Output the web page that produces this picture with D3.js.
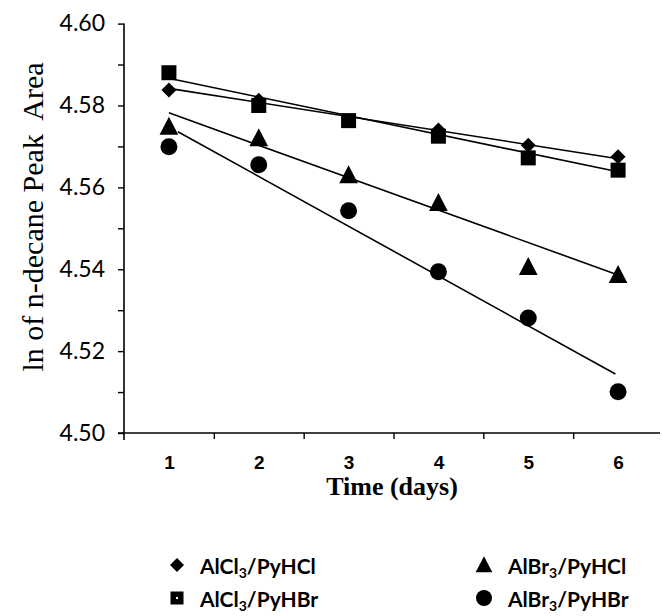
<!DOCTYPE html>
<html>
<head>
<meta charset="utf-8">
<script src="https://cdn.jsdelivr.net/npm/d3@7/dist/d3.min.js"></script>
<style>
html,body{margin:0;padding:0;background:#fff;}
svg{display:block;}
</style>
</head>
<body>
<svg id="chart" width="662" height="616"></svg>
<script>
// ---- data ----
const days = [1, 2, 3, 4, 5, 6];
const alcl3PyHCl = [4.5838, 4.5813, 4.5763, 4.5740, 4.5703, 4.5675];
const alcl3PyHBr = [4.5880, 4.5800, 4.5763, 4.5725, 4.5672, 4.5642];
const albr3PyHCl = [4.5748, 4.5720, 4.5630, 4.5562, 4.5406, 4.5386];
const albr3PyHBr = [4.5699, 4.5655, 4.5543, 4.5394, 4.5281, 4.5101];
// fitted trend lines: [startDay, startValue, endDay, endValue]
const fitAlCl3PyHCl = [1.05, 4.5840, 6.0, 4.5670];
const fitAlCl3PyHBr = [1.05, 4.5864, 6.0, 4.5638];
const fitAlBr3PyHCl = [1.0, 4.5782, 6.0, 4.5386];
const fitAlBr3PyHBr = [1.1, 4.5736, 5.97, 4.5144];
const yTicks = [4.50, 4.51, 4.52, 4.53, 4.54, 4.55, 4.56, 4.57, 4.58, 4.59, 4.60];
const yTickLabels = ["4.50", "", "4.52", "", "4.54", "", "4.56", "", "4.58", "", "4.60"];
const xTickLabels = ["1", "2", "3", "4", "5", "6"];
const xTickMarks = [1.5, 2.5, 3.5, 4.5, 5.5];

const seriesNames = ["AlCl3/PyHCl", "AlCl3/PyHBr", "AlBr3/PyHCl", "AlBr3/PyHBr"];

// ---- drawing ----
const svg = d3.select("#chart");
const x = d3.scaleLinear().domain([0.5, 6.5]).range([124, 663]);
const y = d3.scaleLinear().domain([4.50, 4.60]).range([433, 23.6]);

const series = [
  {name: seriesNames[0], values: alcl3PyHCl, fit: fitAlCl3PyHCl, shape: "diamond"},
  {name: seriesNames[1], values: alcl3PyHBr, fit: fitAlCl3PyHBr, shape: "square"},
  {name: seriesNames[2], values: albr3PyHCl, fit: fitAlBr3PyHCl, shape: "triangle"},
  {name: seriesNames[3], values: albr3PyHBr, fit: fitAlBr3PyHBr, shape: "circle"}
];

function marker(g, shape, s, dot) {
  if (shape === "diamond") {
    g.append("path").attr("d", `M0,${-s*0.5}L${s*0.5},0L0,${s*0.5}L${-s*0.5},0Z`).attr("fill", "#000");
  } else if (shape === "square") {
    g.append("rect").attr("x", -s/2).attr("y", -s/2).attr("width", s).attr("height", s).attr("fill", "#000");
    if (dot) g.append("rect").attr("x", -1).attr("y", -1).attr("width", 2).attr("height", 2).attr("fill", "#fff");
  } else if (shape === "triangle") {
    g.append("path").attr("d", `M0,${-s*0.55}L${s*0.52},${s*0.45}L${-s*0.52},${s*0.45}Z`).attr("fill", "#000");
  } else {
    g.append("circle").attr("r", s/2).attr("fill", "#000");
  }
}

// Y axis
const yAxis = d3.axisLeft(y).tickValues(yTicks).tickSize(6).tickPadding(13)
  .tickFormat((d, i) => yTickLabels[i]);
const gy = svg.append("g").attr("transform", "translate(124,0)").call(yAxis);
gy.select(".domain").attr("d", `M0,${y(4.60)}V${y(4.50) + 7}`).attr("stroke", "#000").attr("stroke-width", 1.6);
gy.selectAll(".tick line").attr("stroke", "#000").attr("stroke-width", 1.4);
gy.selectAll(".tick text").attr("font-family", "Lato, 'Open Sans', sans-serif").attr("font-size", 23).attr("fill", "#000");

// X axis: tick marks between categories
const xAxisMarks = d3.axisBottom(x).tickValues(xTickMarks).tickSize(6).tickFormat("");
const gx = svg.append("g").attr("transform", `translate(0,${y(4.50)})`).call(xAxisMarks);
gx.select(".domain").attr("d", `M${x(0.5) - 6},0H660`).attr("stroke", "#000").attr("stroke-width", 1.6);
gx.selectAll(".tick line").attr("stroke", "#000").attr("stroke-width", 1.4);

// X labels
const xAxisLabels = d3.axisBottom(x).tickValues(days).tickSize(0).tickPadding(23)
  .tickFormat((d, i) => xTickLabels[i]);
const gxl = svg.append("g").attr("transform", `translate(0,${y(4.50)})`).call(xAxisLabels);
gxl.select(".domain").remove();
gxl.selectAll(".tick text").attr("font-family", "'Liberation Sans', Arial, sans-serif")
  .attr("font-weight", "bold").attr("font-size", 19).attr("fill", "#000");

// axis titles
svg.append("text").attr("x", 392).attr("y", 495).attr("text-anchor", "middle")
  .attr("font-family", "'Liberation Serif', 'Times New Roman', serif").attr("font-weight", "bold")
  .attr("font-size", 26).text("Time (days)");
svg.append("text").attr("transform", "translate(43,217) rotate(-90)").attr("text-anchor", "middle")
  .attr("font-family", "'Liberation Serif', 'Times New Roman', serif")
  .style("white-space", "pre")
  .attr("font-size", 30).text("ln of n-decane Peak  Area");

// fit lines
const plot = svg.append("g");
series.forEach(s => {
  plot.append("line")
    .attr("x1", x(s.fit[0])).attr("y1", y(s.fit[1]))
    .attr("x2", x(s.fit[2])).attr("y2", y(s.fit[3]))
    .attr("stroke", "#000").attr("stroke-width", 1.6);
});

// markers
const sizes = {diamond: 15, square: 15, triangle: 18, circle: 17};
series.forEach(s => {
  s.values.forEach((v, i) => {
    const g = plot.append("g").attr("transform", `translate(${x(days[i])},${y(v)})`);
    marker(g, s.shape, sizes[s.shape], false);
  });
});

// legend
const legendItems = [
  {s: series[0], mx: 177, tx: 200, ty: 574, main: "AlCl", tail: "/PyHCl"},
  {s: series[1], mx: 177, tx: 200, ty: 607, main: "AlCl", tail: "/PyHBr"},
  {s: series[2], mx: 484, tx: 508, ty: 574, main: "AlBr", tail: "/PyHCl"},
  {s: series[3], mx: 484, tx: 508, ty: 607, main: "AlBr", tail: "/PyHBr"}
];
const legSizes = {diamond: 14, square: 13, triangle: 16, circle: 16};
legendItems.forEach(it => {
  const g = svg.append("g").attr("transform", `translate(${it.mx},${it.ty - 9})`);
  marker(g, it.s.shape, legSizes[it.s.shape], true);
  const t = svg.append("text").attr("x", it.tx).attr("y", it.ty)
    .attr("font-family", "Lato, 'Open Sans', sans-serif").attr("font-weight", "bold")
    .attr("font-size", 21).attr("fill", "#000");
  t.append("tspan").text(it.main);
  t.append("tspan").attr("font-size", 14).attr("dy", 4).text("3");
  t.append("tspan").attr("dy", -4).text(it.tail);
});
</script>
</body>
</html>
